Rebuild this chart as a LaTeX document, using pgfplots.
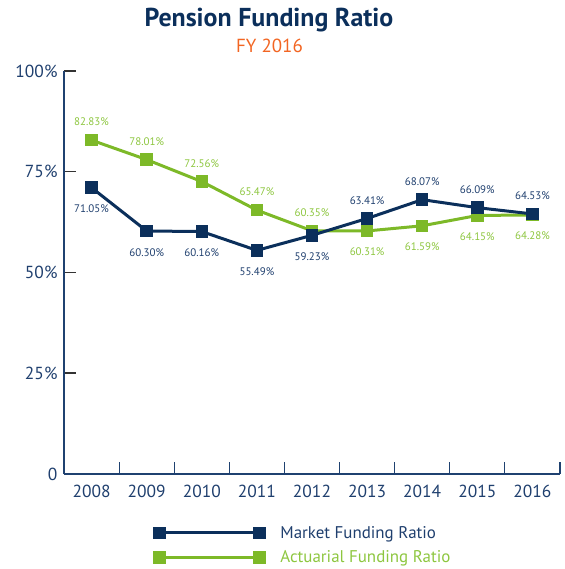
\documentclass[border=0pt]{standalone}
\usepackage{fontspec}
\setmainfont{PT Sans}
\usepackage{pgfplots}
\pgfplotsset{compat=1.18}
\definecolor{navy}{HTML}{0B2F5B}
\definecolor{navytext}{HTML}{1F3F6E}
\definecolor{grn}{HTML}{7DB928}
\definecolor{grntext}{HTML}{8DC63F}
\definecolor{orng}{HTML}{F26522}
\definecolor{axisblue}{HTML}{1F4170}

\begin{document}
\begin{tikzpicture}
\path[use as bounding box] (-64bp,-95bp) rectangle (501bp,474bp);
\node[anchor=base, font=\bfseries\fontsize{26}{30}\selectfont, text=navy] at (205bp,447bp) {Pension Funding Ratio};
\node[anchor=base, font=\fontsize{19}{22}\selectfont, text=orng] at (205.5bp,421bp) {FY 2016};
\begin{axis}[
  at={(0,0)}, anchor=south west,
  scale only axis, width=496bp, height=403bp,
  xmin=2007.5, xmax=2016.5, ymin=0, ymax=100,
  axis x line=bottom, axis y line=left,
  axis line style={-, draw=axisblue, line width=1.5bp},
  tick align=inside,
  xtick={2008.5,2009.5,2010.5,2011.5,2012.5,2013.5,2014.5,2015.5,2016.5},
  xticklabels={2008,2009,2010,2011,2012,2013,2014,2015,2016},
  x tick style={draw=axisblue, line width=1.2bp},
  xticklabel style={xshift=-27.56bp, yshift=-8bp},
  ytick={0,25,50,75,100}, yticklabels={0,25\%,50\%,75\%,100\%},
  y tick style={draw=black!80, line width=1.5bp},
  major tick length=12bp,
  ticklabel style={font=\fontsize{17.5}{20}\selectfont, text=navytext},
  yticklabel style={xshift=-3bp},
  clip=false,
  reverse legend,
  legend style={at={(0.183,-0.124)}, anchor=north west, draw=none, fill=none,
    font=\fontsize{17}{20}\selectfont, row sep=7bp, inner sep=0pt},
  legend cell align=left,
  legend image code/.code={\draw[#1] plot coordinates {(0bp,0bp) (100bp,0bp)};},
  lbl/.style={draw=none, mark=none, forget plot,
    nodes near coords={\pgfmathprintnumber[fixed,fixed zerofill,precision=2,assume math mode=true]{\pgfplotspointmeta}\%},
    every node near coord/.append style={inner sep=0pt, font=\fontsize{11}{13}\selectfont}},
  up/.style={every node near coord/.append style={anchor=south, yshift=14bp}},
  dn/.style={every node near coord/.append style={anchor=north, yshift=-17bp}},
]
\addplot[grn, line width=3bp, mark=square*, mark size=4.7bp]
  coordinates {(2008,82.83) (2009,78.01) (2010,72.56) (2011,65.47) (2012,60.35) (2013,60.31) (2014,61.59) (2015,64.15) (2016,64.28)};
\addlegendentry{\hspace{14bp}\textcolor{grntext}{Actuarial Funding Ratio}}
\addplot[navy, line width=3bp, mark=square*, mark size=4.7bp]
  coordinates {(2008,71.05) (2009,60.30) (2010,60.16) (2011,55.49) (2012,59.23) (2013,63.41) (2014,68.07) (2015,66.09) (2016,64.53)};
\addlegendentry{\hspace{14bp}\textcolor{navytext}{Market Funding Ratio}}
% data labels
\addplot[lbl, up, every node near coord/.append style={text=grntext}]
  coordinates {(2008,82.83) (2009,78.01) (2010,72.56) (2011,65.47) (2012,60.35)};
\addplot[lbl, dn, every node near coord/.append style={text=grntext}]
  coordinates {(2013,60.31) (2014,61.59) (2015,64.15) (2016,64.28)};
\addplot[lbl, dn, every node near coord/.append style={text=navytext}]
  coordinates {(2008,71.05) (2009,60.30) (2010,60.16) (2011,55.49) (2012,59.23)};
\addplot[lbl, up, every node near coord/.append style={text=navytext}]
  coordinates {(2013,63.41) (2014,68.07) (2015,66.09) (2016,64.53)};
\end{axis}
\end{tikzpicture}
\end{document}
